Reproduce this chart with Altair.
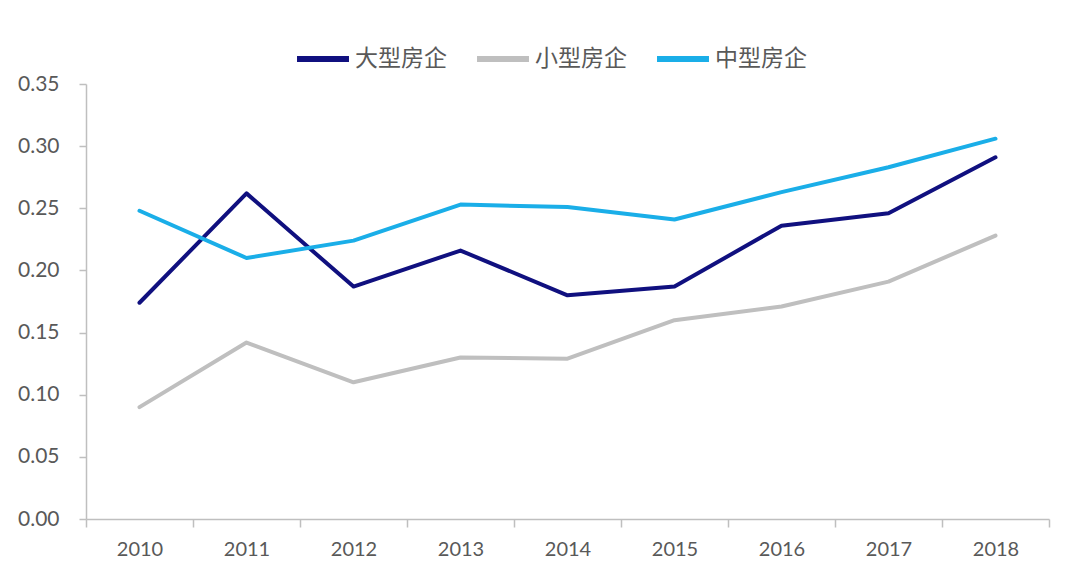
import altair as alt
import pandas as pd

years = ["2010", "2011", "2012", "2013", "2014", "2015", "2016", "2017", "2018"]
large = [0.174, 0.262, 0.187, 0.216, 0.180, 0.187, 0.236, 0.246, 0.291]
small = [0.090, 0.142, 0.110, 0.130, 0.129, 0.160, 0.171, 0.191, 0.228]
medium = [0.248, 0.210, 0.224, 0.253, 0.251, 0.241, 0.263, 0.283, 0.306]

series_names = ["大型房企", "小型房企", "中型房企"]
series_colors = ["#10107F", "#BFBFBF", "#1AAEE8"]

rows = []
for name, vals in zip(series_names, [large, small, medium]):
    for y, v in zip(years, vals):
        rows.append({"year": y, "value": v, "series": name})
df = pd.DataFrame(rows)

font = "Lato"
cjk = "Noto Sans CJK SC"

chart = (
    alt.Chart(df)
    .mark_line(strokeWidth=4, strokeCap="round", strokeJoin="round")
    .encode(
        x=alt.X(
            "year:O",
            sort=years,
            bandPosition=0.5,
            scale=alt.Scale(type="band", paddingInner=0, paddingOuter=0),
            axis=alt.Axis(
                title=None,
                labelAngle=0,
                tickBand="extent",
                labelFont=font,
                labelFontSize=20,
                labelColor="#595959",
                labelPadding=12,
                domainColor="#BFBFBF",
                domainWidth=1.5,
                tickColor="#BFBFBF",
                tickWidth=1.5,
                tickSize=8,
                grid=False,
            ),
        ),
        y=alt.Y(
            "value:Q",
            scale=alt.Scale(domain=[0, 0.35], nice=False, zero=True),
            axis=alt.Axis(
                title=None,
                values=[0, 0.05, 0.1, 0.15, 0.2, 0.25, 0.3, 0.35],
                format=".2f",
                labelFont=font,
                labelFontSize=21,
                labelColor="#595959",
                labelPadding=20,
                domainColor="#BFBFBF",
                domainWidth=1.5,
                tickColor="#BFBFBF",
                tickWidth=1.5,
                tickSize=7,
                grid=False,
            ),
        ),
        color=alt.Color(
            "series:N",
            sort=series_names,
            scale=alt.Scale(domain=series_names, range=series_colors),
            legend=alt.Legend(
                title=None,
                orient="none",
                legendX=208,
                legendY=-54,
                direction="horizontal",
                symbolType="stroke",
                symbolSize=2700,
                symbolStrokeWidth=6,
                labelFont=cjk,
                labelFontSize=23,
                labelColor="#595959",
                labelOffset=3,
                columnPadding=18,
            ),
        ),
    )
    .properties(
        width=963,
        height=435,
        autosize=alt.AutoSizeParams(type="none"),
        padding={"left": 78, "top": 76, "right": 20, "bottom": 50},
    )
    .configure_view(stroke=None)
)

chart.save("out.html", embed_options={"renderer": "svg", "actions": False})
